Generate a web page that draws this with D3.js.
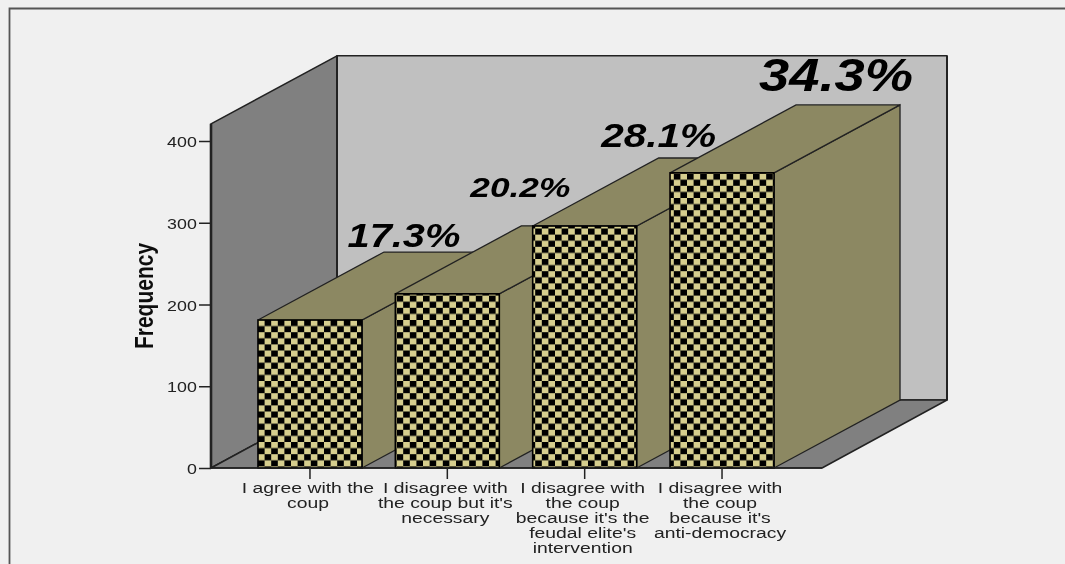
<!DOCTYPE html>
<html><head><meta charset="utf-8">
<script src="https://cdn.jsdelivr.net/npm/d3@7"></script>
<style>html,body{margin:0;padding:0;background:#f0f0f0;overflow:hidden}text{font-family:"Liberation Sans",Arial,sans-serif}</style>
</head><body><svg id="c" width="1065" height="564"></svg>
<script>
const categories = [
  ["I agree with the","coup"],
  ["I disagree with","the coup but it's","necessary"],
  ["I disagree with","the coup","because it's the","feudal elite's","intervention"],
  ["I disagree with","the coup","because it's","anti-democracy"]
];
const frequencies = [181, 213, 296, 361];
const percentLabels = ["17.3%","20.2%","28.1%","34.3%"];
const yTicks = [0,100,200,300,400];
const yAxisTitle = "Frequency";

// layout / style (not data)
const pctStyle = [
  {size:33, w:113, dx:94,  dy:-5},
  {size:28, w:100, dx:73,  dy:-29},
  {size:34, w:115, dx:74,  dy:-11},
  {size:47, w:154, dx:114, dy:-14}
];
const dx = 126, dy = 68, wallTopValue = 421;
const C = {bg:"#f0f0f0", wall:"#c0c0c0", side:"#808080", bar:"#8c8862", light:"#d6ce8e", line:"#222"};
const tickStretch = 1.19, catStretch = 1.29;

const svg = d3.select("#c");
const defs = svg.append("defs");
const f = defs.append("filter").attr("id","soft").attr("x",0).attr("y",0).attr("width",1).attr("height",1)
  .attr("filterUnits","objectBoundingBox");
f.append("feGaussianBlur").attr("stdDeviation",0.45);
const cw = 13.2, ch = 12.2;
const pat = defs.append("pattern").attr("id","check").attr("patternUnits","userSpaceOnUse")
  .attr("width",cw).attr("height",ch).attr("x",258).attr("y",320);
pat.append("rect").attr("width",cw).attr("height",ch).attr("fill",C.light);
pat.append("rect").attr("x",cw/2).attr("width",cw/2).attr("height",ch/2).attr("fill","#000");
pat.append("rect").attr("y",ch/2).attr("width",cw/2).attr("height",ch/2).attr("fill","#000");

const root = svg.append("g").attr("filter","url(#soft)");
root.append("rect").attr("width",1065).attr("height",564).attr("fill",C.bg);
root.append("path").attr("d","M9.5,564V8.5H1065").attr("fill","none").attr("stroke","#555").attr("stroke-width",1.8);

const y = d3.scaleLinear().domain([0,400]).range([468,141]);
const x = d3.scaleBand().domain(d3.range(categories.length)).range([241.3,790.7])
  .paddingInner(0.243).paddingOuter(0.1215);
const X0 = 211, X1 = 822;
const poly = pts => pts.map(p=>p.join(",")).join(" ");
const frame = root.append("g").attr("stroke",C.line).attr("stroke-linejoin","round");
const yTop = y(wallTopValue), y0 = y(0);
frame.append("polygon").attr("points",poly([[X0+dx,yTop-dy],[X1+dx-1,yTop-dy],[X1+dx-1,y0-dy],[X0+dx,y0-dy]]))
  .attr("fill",C.wall).attr("stroke-width",1.5);
frame.append("polygon").attr("points",poly([[X0,yTop],[X0+dx,yTop-dy],[X0+dx,y0-dy],[X0,y0]]))
  .attr("fill",C.side).attr("stroke-width",1.5);
frame.append("polygon").attr("points",poly([[X0,y0],[X0+dx,y0-dy],[X1+dx-1,y0-dy],[X1,y0]]))
  .attr("fill",C.side).attr("stroke-width",1.5);
root.append("line").attr("x1",X0).attr("x2",X0).attr("y1",yTop).attr("y2",y0).attr("stroke",C.line).attr("stroke-width",2.6);
root.append("line").attr("x1",X0+dx).attr("x2",X0+dx).attr("y1",yTop-dy).attr("y2",y0-dy).attr("stroke",C.line).attr("stroke-width",2);
root.append("line").attr("x1",X1+dx-1).attr("x2",X1+dx-1).attr("y1",yTop-dy).attr("y2",y0-dy).attr("stroke",C.line).attr("stroke-width",2);

const bars = root.append("g").selectAll("g").data(frequencies).join("g");
bars.append("polygon").attr("fill",C.bar).attr("stroke",C.line).attr("stroke-width",1.3)
  .attr("points",(d,i)=>{const r=x(i)+x.bandwidth();return poly([[r,y(d)],[r+dx,y(d)-dy],[r+dx,y0-dy],[r,y0]]);});
bars.append("polygon").attr("fill",C.bar).attr("stroke",C.line).attr("stroke-width",1.3)
  .attr("points",(d,i)=>{const l=x(i),r=l+x.bandwidth();return poly([[l,y(d)],[l+dx,y(d)-dy],[r+dx,y(d)-dy],[r,y(d)]]);});
bars.append("rect").attr("x",(d,i)=>x(i)).attr("y",d=>y(d)).attr("width",x.bandwidth()).attr("height",d=>y0-y(d))
  .attr("fill","url(#check)").attr("stroke","#000").attr("stroke-width",1.6);

const yAxis = root.append("g").attr("transform",`translate(${X0},0)`)
  .call(d3.axisLeft(y).tickValues(yTicks).tickSize(12).tickPadding(2));
yAxis.select(".domain").remove();
yAxis.selectAll(".tick line").attr("stroke",C.line).attr("stroke-width",1.5);
yAxis.selectAll(".tick text").attr("font-size",15).attr("fill","#222")
  .attr("transform",`translate(-13,0) scale(${tickStretch},1) translate(13,0)`).attr("dy","0.38em");

root.append("line").attr("x1",X0-1).attr("x2",X1).attr("y1",y0).attr("y2",y0).attr("stroke",C.line).attr("stroke-width",1.6);

const xAxis = root.append("g").attr("transform",`translate(0,${y0})`)
  .call(d3.axisBottom(x).tickSize(11).tickFormat(""));
xAxis.select(".domain").remove();
xAxis.selectAll(".tick line").attr("stroke",C.line).attr("stroke-width",1.5);
categories.forEach((lines,i)=>{
  const cx = x(i)+x.bandwidth()/2-2;
  const t = root.append("text").attr("text-anchor","middle").attr("font-size",15).attr("fill","#222")
    .attr("transform",`translate(${cx},493) scale(${catStretch},1)`);
  lines.forEach((s,j)=>t.append("tspan").attr("x",0).attr("y",j*15.1).text(s));
});

root.append("text").text(yAxisTitle).attr("text-anchor","middle").attr("font-weight","bold").attr("font-size",21)
  .attr("fill","#111").attr("transform","translate(153,296) scale(1.2,1) rotate(-90)");

root.append("g").selectAll("text").data(percentLabels).join("text").text(d=>d)
  .attr("font-weight","bold").attr("font-style","italic").attr("fill","#000").attr("text-anchor","middle")
  .attr("font-size",(d,i)=>pctStyle[i].size)
  .attr("textLength",(d,i)=>pctStyle[i].w).attr("lengthAdjust","spacingAndGlyphs")
  .attr("x",(d,i)=>x(i)+x.bandwidth()/2+pctStyle[i].dx)
  .attr("y",(d,i)=>y(frequencies[i])-dy+pctStyle[i].dy);
</script></body></html>
